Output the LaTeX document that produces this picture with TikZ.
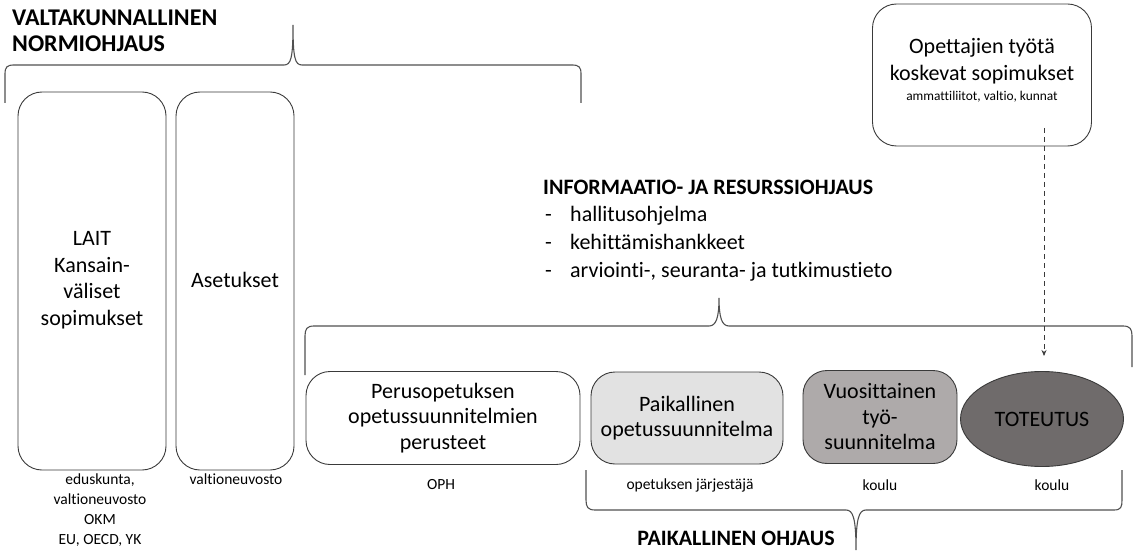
\documentclass[tikz,border=0pt]{standalone}
\usepackage{fontspec}
\setmainfont{Carlito}[Ligatures={NoCommon}]
\usetikzlibrary{shapes.geometric,arrows.meta}
\definecolor{edge}{HTML}{3A3A3A}
\definecolor{brc}{HTML}{505050}
\definecolor{lgray}{HTML}{E2E2E2}
\definecolor{mgray}{HTML}{AEAAAA}
\definecolor{dgray}{HTML}{6F6B6B}
\tikzset{
  rbox/.style={draw=edge, line width=0.9pt, rounded corners=24pt, align=center, inner sep=0pt, font=\fontsize{22}{25.5}\selectfont},
  brace/.style={draw=brc, line width=1.1pt},
  lbl/.style={font=\fontsize{15.5}{20}\selectfont, align=center, inner sep=0pt},
  head/.style={font=\fontsize{22}{25}\selectfont\bfseries, inner sep=0pt},
  txt/.style={font=\fontsize{22}{27}\selectfont, inner sep=0pt}
}
\begin{document}
\begin{tikzpicture}[x=1pt,y=-1pt]
\useasboundingbox (0,0) rectangle (1139,553);
% title
\node[anchor=north west, align=left, inner sep=0pt, font=\fontsize{24}{25.5}\selectfont\bfseries] (t1) at (12,10) {VALTAKUNNALLINEN\\NORMIOHJAUS};
% top brace
\draw[brace] (5,103) -- (5,74) .. controls (5,67) and (7,65) .. (14,65) -- (284,65) .. controls (291,65) and (293,58) .. (293,25) .. controls (293,58) and (295,65) .. (302,65) -- (572,65) .. controls (579,65) and (581,67) .. (581,74) -- (581,103);
% left boxes
\node[rbox, minimum width=148pt, minimum height=378pt] (lait) at (92,281) {};
\node[txt, align=center, font=\fontsize{22}{26.5}\selectfont] (laitt) at (92,280) {LAIT\\Kansain-\\väliset\\sopimukset};
\node[rbox, minimum width=118pt, minimum height=378pt] (aset) at (235,281) {};
\node[txt] (asett) at (235,280) {Asetukset};
\node[lbl, anchor=north] (ed) at (100,474) {eduskunta,\\valtioneuvosto\\OKM\\EU, OECD, YK};
\node[lbl, anchor=north] (vn) at (236,474) {valtioneuvosto};
% top right box
\node[rbox, minimum width=219pt, minimum height=142pt] (sop) at (982,75) {};
\node[txt, align=center, font=\fontsize{22}{27}\selectfont] (sopt) at (982,61) {Opettajien työtä\\koskevat sopimukset};
\node[lbl, font=\fontsize{13.4}{15}\selectfont] (sops) at (982,97) {ammattiliitot, valtio, kunnat};
% informaatio
\node[head, anchor=base west] (info) at (543,195) {INFORMAATIO- JA RESURSSIOHJAUS};
\node[txt, anchor=base west] (d1) at (545,222) {-};
\node[txt, anchor=base west] (b1) at (570,222) {hallitusohjelma};
\node[txt, anchor=base west] (d2) at (545,249) {-};
\node[txt, anchor=base west] (b2) at (570,249) {kehittämishankkeet};
\node[txt, anchor=base west] (d3) at (545,277) {-};
\node[txt, anchor=base west] (b3) at (570,277) {arviointi-, seuranta- ja tutkimustieto};
% middle brace
\draw[brace] (305,375) -- (305,336) .. controls (305,329) and (307,326) .. (314,326) -- (709,326) .. controls (716,326) and (719,318) .. (719,298) .. controls (719,318) and (722,326) .. (729,326) -- (1123,326) .. controls (1130,326) and (1132,329) .. (1132,336) -- (1132,367);
% process boxes
\node[rbox, fill=white, minimum width=274pt, minimum height=93pt] (ops) at (443,418) {Perusopetuksen\\opetussuunnitelmien\\perusteet};
\node[rbox, fill=lgray, minimum width=192pt, minimum height=92pt] (pai) at (687,418) {Paikallinen\\opetussuunnitelma};
\node[rbox, fill=mgray, minimum width=154pt, minimum height=93pt] (vuo) at (880,417) {Vuosittainen\\työ-\\suunnitelma};
\node[ellipse, draw=edge, line width=0.9pt, fill=dgray, minimum width=163pt, minimum height=95pt, inner sep=0pt, font=\fontsize{22}{26}\selectfont] (tot) at (1042,419) {TOTEUTUS};
\node[lbl] (oph) at (441,485) {OPH};
\node[lbl] (oj) at (690,485) {opetuksen järjestäjä};
\node[lbl] (k1) at (880,485) {koulu};
\node[lbl] (k2) at (1052,485) {koulu};
% dashed arrow
\coordinate (as) at (1044,128);
\coordinate (ae) at (1044,356);
\draw[dash pattern=on 5pt off 4pt, draw=edge, line width=0.8pt, -{Stealth[length=6pt,width=5pt]}] (as) -- (ae);
% bottom brace
\draw[brace] (586,470) -- (586,500) .. controls (586,507) and (588,510) .. (595,510) -- (846,510) .. controls (853,510) and (856,518) .. (856,550) .. controls (856,518) and (859,510) .. (866,510) -- (1114,510) .. controls (1121,510) and (1122,507) .. (1122,500) -- (1122,470);
\node[head] (po) at (736,538) {PAIKALLINEN OHJAUS};
\end{tikzpicture}
\end{document}
